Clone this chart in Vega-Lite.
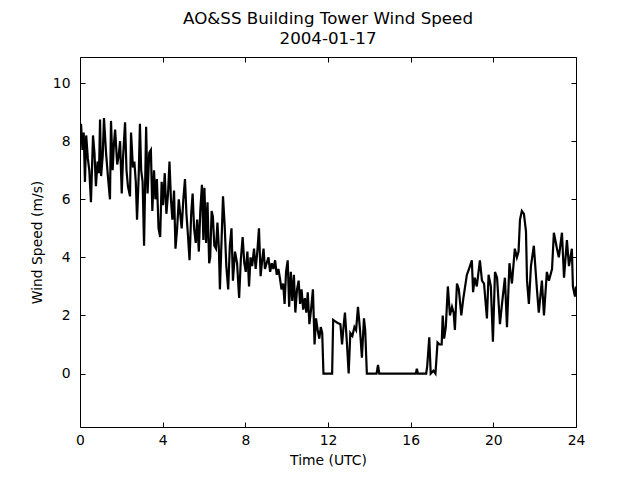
{
 "$schema": "https://vega.github.io/schema/vega-lite/v6.json",
 "width": 496,
 "height": 370,
 "autosize": {"type": "none"},
 "padding": {"left": 80, "top": 57, "right": 64, "bottom": 53},
 "background": "white",
 "title": {"text": ["AO&SS Building Tower Wind Speed", "2004-01-17"], "font": "DejaVu Sans", "fontSize": 16.7, "fontWeight": "normal", "color": "black", "anchor": "middle", "offset": 9, "lineHeight": 20},
 "config": {
  "view": {"stroke": "black", "strokeWidth": 1},
  "axis": {"grid": false, "domain": false, "ticks": true, "tickColor": "black", "tickSize": -5, "tickWidth": 1, "labelFlush": false,
           "labelFont": "DejaVu Sans", "labelFontSize": 13.9, "labelColor": "black",
           "titleFont": "DejaVu Sans", "titleFontSize": 13.9, "titleFontWeight": "normal", "titleColor": "black"}
 },
 "data": {"values": [
  {"t":0.0,"v":8.0},{"t":0.05,"v":8.6},{"t":0.12,"v":7.7},{"t":0.18,"v":8.3},{"t":0.24,"v":6.6},{"t":0.3,"v":8.2},{"t":0.38,"v":7.4},{"t":0.45,"v":7.0},{"t":0.53,"v":5.9},{"t":0.63,"v":8.2},{"t":0.7,"v":7.6},{"t":0.77,"v":6.45},{"t":0.85,"v":7.3},{"t":0.92,"v":6.9},{"t":0.97,"v":8.75},
  {"t":1.02,"v":6.8},{"t":1.1,"v":7.5},{"t":1.16,"v":8.8},{"t":1.26,"v":7.6},{"t":1.35,"v":6.8},{"t":1.45,"v":6.0},{"t":1.5,"v":8.7},{"t":1.58,"v":7.0},{"t":1.64,"v":7.9},{"t":1.7,"v":8.4},{"t":1.8,"v":7.2},{"t":1.87,"v":7.5},{"t":1.94,"v":8.0},
  {"t":2.02,"v":6.2},{"t":2.08,"v":7.4},{"t":2.18,"v":8.65},{"t":2.25,"v":7.0},{"t":2.32,"v":6.45},{"t":2.42,"v":6.1},{"t":2.47,"v":8.3},{"t":2.56,"v":7.1},{"t":2.63,"v":7.3},{"t":2.7,"v":6.6},{"t":2.76,"v":5.3},{"t":2.84,"v":6.8},{"t":2.9,"v":8.6},{"t":2.96,"v":7.0},
  {"t":3.03,"v":6.6},{"t":3.1,"v":4.4},{"t":3.2,"v":8.5},{"t":3.27,"v":6.2},{"t":3.35,"v":7.6},{"t":3.43,"v":7.7},{"t":3.5,"v":5.6},{"t":3.58,"v":7.0},{"t":3.65,"v":6.0},{"t":3.72,"v":6.7},{"t":3.8,"v":5.0},{"t":3.88,"v":4.7},{"t":3.95,"v":6.6},
  {"t":4.02,"v":5.8},{"t":4.1,"v":6.9},{"t":4.18,"v":5.5},{"t":4.26,"v":6.2},{"t":4.33,"v":7.3},{"t":4.4,"v":6.0},{"t":4.47,"v":5.3},{"t":4.55,"v":6.3},{"t":4.62,"v":4.3},{"t":4.7,"v":5.0},{"t":4.78,"v":6.0},{"t":4.85,"v":5.5},{"t":4.92,"v":5.0},
  {"t":5.0,"v":6.0},{"t":5.08,"v":6.7},{"t":5.15,"v":5.5},{"t":5.22,"v":4.8},{"t":5.3,"v":3.9},{"t":5.38,"v":5.5},{"t":5.45,"v":6.2},{"t":5.52,"v":5.0},{"t":5.6,"v":4.5},{"t":5.67,"v":5.3},{"t":5.75,"v":4.2},{"t":5.82,"v":5.6},{"t":5.9,"v":6.5},{"t":5.97,"v":4.6},
  {"t":6.02,"v":6.4},{"t":6.1,"v":4.5},{"t":6.17,"v":5.9},{"t":6.25,"v":3.8},{"t":6.3,"v":4.0},{"t":6.37,"v":5.6},{"t":6.43,"v":5.4},{"t":6.5,"v":4.4},{"t":6.58,"v":4.3},{"t":6.65,"v":5.2},{"t":6.72,"v":4.3},{"t":6.77,"v":2.9},{"t":6.85,"v":4.6},{"t":6.92,"v":6.1},
  {"t":7.0,"v":5.1},{"t":7.08,"v":3.7},{"t":7.17,"v":2.9},{"t":7.25,"v":4.4},{"t":7.33,"v":5.0},{"t":7.4,"v":3.2},{"t":7.5,"v":4.2},{"t":7.6,"v":3.8},{"t":7.7,"v":2.6},{"t":7.78,"v":3.9},{"t":7.87,"v":4.7},{"t":7.95,"v":3.8},
  {"t":8.02,"v":3.5},{"t":8.1,"v":4.2},{"t":8.18,"v":3.0},{"t":8.25,"v":4.0},{"t":8.33,"v":3.7},{"t":8.42,"v":4.3},{"t":8.5,"v":3.6},{"t":8.58,"v":4.2},{"t":8.66,"v":5.0},{"t":8.74,"v":3.35},{"t":8.8,"v":3.8},{"t":8.88,"v":4.3},{"t":8.95,"v":3.6},
  {"t":9.03,"v":3.8},{"t":9.12,"v":4.0},{"t":9.2,"v":3.5},{"t":9.28,"v":3.8},{"t":9.36,"v":3.6},{"t":9.44,"v":3.9},{"t":9.52,"v":3.4},{"t":9.6,"v":3.6},{"t":9.67,"v":3.3},{"t":9.75,"v":2.9},{"t":9.83,"v":3.1},{"t":9.9,"v":2.4},{"t":9.97,"v":3.5},
  {"t":10.05,"v":3.9},{"t":10.12,"v":2.3},{"t":10.2,"v":3.5},{"t":10.27,"v":2.5},{"t":10.35,"v":3.4},{"t":10.42,"v":2.1},{"t":10.5,"v":2.9},{"t":10.58,"v":3.2},{"t":10.65,"v":2.4},{"t":10.72,"v":2.9},{"t":10.8,"v":2.2},{"t":10.88,"v":2.6},{"t":10.95,"v":2.1},
  {"t":11.02,"v":2.8},{"t":11.1,"v":1.7},{"t":11.18,"v":2.2},{"t":11.27,"v":2.9},{"t":11.35,"v":1.0},{"t":11.42,"v":1.9},{"t":11.5,"v":1.5},{"t":11.58,"v":1.2},{"t":11.65,"v":1.6},{"t":11.72,"v":1.4},{"t":11.78,"v":0.0},{"t":11.85,"v":0.0},
  {"t":12.2,"v":0.0},{"t":12.25,"v":1.85},{"t":12.35,"v":1.8},{"t":12.45,"v":1.75},{"t":12.6,"v":1.7},{"t":12.68,"v":1.0},{"t":12.75,"v":1.6},{"t":12.82,"v":2.1},{"t":12.92,"v":1.0},
  {"t":13.0,"v":0.0},{"t":13.08,"v":1.4},{"t":13.18,"v":1.3},{"t":13.28,"v":1.6},{"t":13.36,"v":1.5},{"t":13.45,"v":2.3},{"t":13.55,"v":1.5},{"t":13.64,"v":0.55},{"t":13.74,"v":1.9},{"t":13.8,"v":1.5},{"t":13.88,"v":0.0},
  {"t":14.35,"v":0.0},{"t":14.42,"v":0.3},{"t":14.48,"v":0.0},{"t":16.25,"v":0.0},{"t":16.3,"v":0.17},{"t":16.35,"v":0.0},{"t":16.75,"v":0.0},{"t":16.8,"v":0.25},{"t":16.9,"v":1.25},{"t":16.97,"v":0.0},
  {"t":17.1,"v":0.1},{"t":17.2,"v":0.0},{"t":17.3,"v":1.07},{"t":17.4,"v":1.0},{"t":17.5,"v":1.0},{"t":17.55,"v":2.0},{"t":17.62,"v":1.2},{"t":17.7,"v":1.6},{"t":17.8,"v":3.0},{"t":17.9,"v":2.0},
  {"t":18.0,"v":2.3},{"t":18.08,"v":2.1},{"t":18.14,"v":1.5},{"t":18.24,"v":3.1},{"t":18.33,"v":2.9},{"t":18.45,"v":2.0},{"t":18.55,"v":2.6},{"t":18.72,"v":3.4},{"t":18.82,"v":3.6},{"t":18.96,"v":3.9},
  {"t":19.02,"v":2.8},{"t":19.1,"v":3.3},{"t":19.2,"v":3.0},{"t":19.35,"v":3.9},{"t":19.45,"v":3.2},{"t":19.55,"v":3.1},{"t":19.69,"v":1.9},{"t":19.77,"v":3.4},{"t":19.88,"v":3.0},{"t":19.98,"v":1.1},
  {"t":20.08,"v":3.5},{"t":20.18,"v":3.3},{"t":20.32,"v":1.7},{"t":20.42,"v":2.4},{"t":20.56,"v":3.3},{"t":20.66,"v":1.6},{"t":20.78,"v":3.8},{"t":20.9,"v":3.1},
  {"t":21.04,"v":4.3},{"t":21.14,"v":4.0},{"t":21.22,"v":4.2},{"t":21.29,"v":5.3},{"t":21.38,"v":5.6},{"t":21.48,"v":5.5},{"t":21.58,"v":4.9},{"t":21.63,"v":3.2},{"t":21.72,"v":2.4},{"t":21.82,"v":3.7},{"t":21.96,"v":4.4},
  {"t":22.11,"v":2.9},{"t":22.2,"v":2.1},{"t":22.35,"v":3.2},{"t":22.45,"v":2.0},{"t":22.59,"v":3.5},{"t":22.69,"v":3.2},{"t":22.84,"v":3.6},{"t":22.93,"v":4.85},
  {"t":23.08,"v":4.3},{"t":23.17,"v":4.0},{"t":23.32,"v":4.85},{"t":23.42,"v":3.3},{"t":23.56,"v":4.6},{"t":23.66,"v":3.7},{"t":23.8,"v":4.3},{"t":23.85,"v":3.0},{"t":23.95,"v":2.65},{"t":24.0,"v":3.0}
 ]},
 "layer": [
  {"mark": {"type": "line", "color": "black", "strokeWidth": 2.2, "clip": true},
   "encoding": {
    "x": {"field": "t", "type": "quantitative", "scale": {"domain": [0, 24], "nice": false, "zero": false},
          "axis": {"orient": "bottom", "title": "Time (UTC)", "values": [0, 4, 8, 12, 16, 20, 24], "labelPadding": 11, "titlePadding": 7}},
    "y": {"field": "v", "type": "quantitative", "scale": {"domain": [-1.84, 10.9], "nice": false, "zero": false},
          "axis": {"orient": "left", "title": "Wind Speed (m/s)", "values": [0, 2, 4, 6, 8, 10], "labelPadding": 15, "titlePadding": 8}}
   }},
  {"mark": {"type": "line", "opacity": 0},
   "encoding": {
    "x": {"field": "t", "type": "quantitative", "axis": {"orient": "top", "title": null, "labels": false, "values": [0, 4, 8, 12, 16, 20, 24]}},
    "y": {"field": "v", "type": "quantitative", "axis": {"orient": "right", "title": null, "labels": false, "values": [0, 2, 4, 6, 8, 10]}}
   }}
 ],
 "resolve": {"axis": {"x": "independent", "y": "independent"}}
}
